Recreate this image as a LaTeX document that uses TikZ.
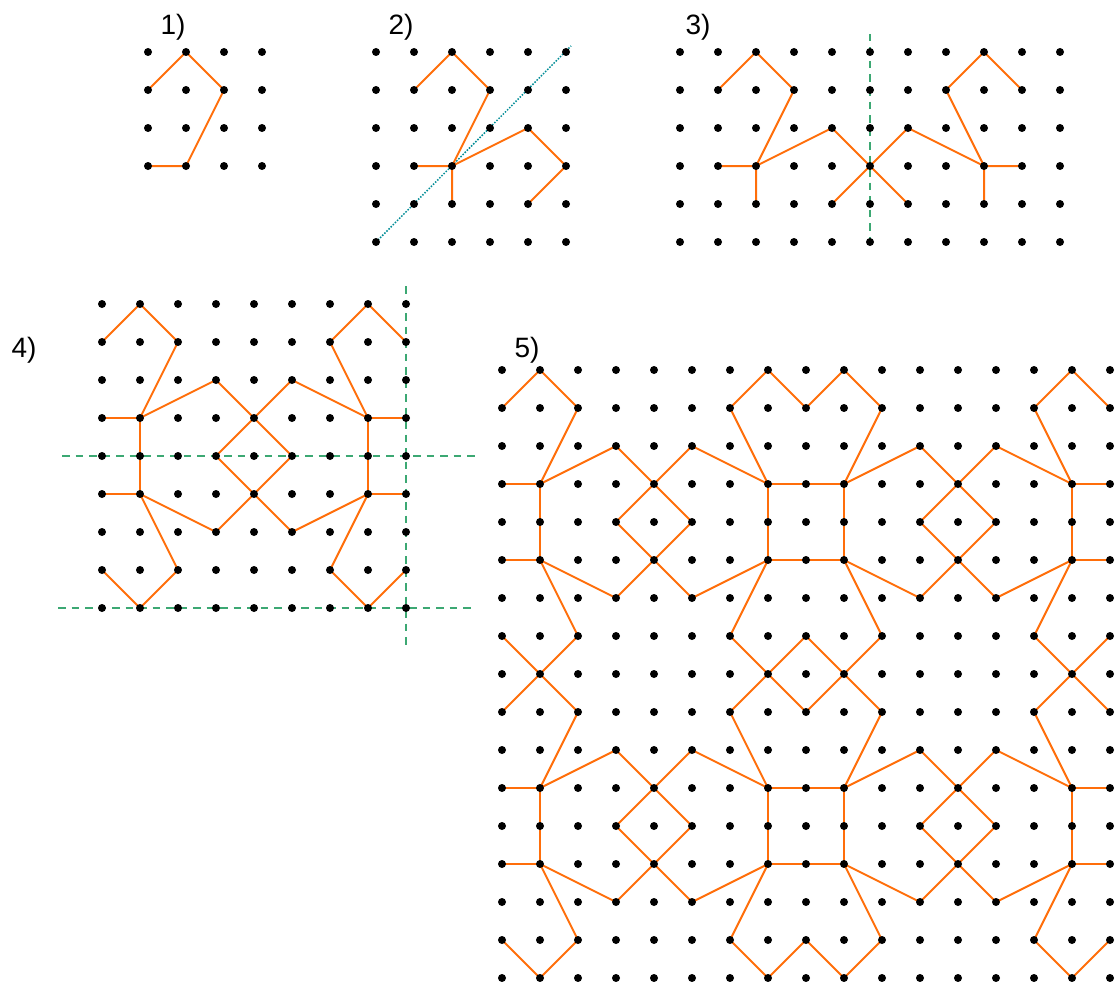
\documentclass[tikz,border=0pt]{standalone}
\usepackage{fontspec}
\setmainfont{Liberation Sans}
\definecolor{shapeorange}{RGB}{255,110,10}
\definecolor{axisgreen}{RGB}{60,168,115}
\definecolor{axisteal}{RGB}{0,140,150}
\tikzset{
  shapeline/.style={draw=shapeorange, line width=2pt, line join=round, line cap=round},
  greenaxis/.style={draw=axisgreen, line width=1.6pt, dash pattern=on 7.5pt off 6pt},
  tealaxis/.style={draw=axisteal, line width=1.5pt, dash pattern=on 1.5pt off 1.5pt},
  panellabel/.style={inner sep=0pt, font=\fontsize{28}{32}\selectfont},
}
% name, x0, y0, last column, last row
\newcommand\makegrid[5]{%
  \foreach \i in {0,...,#4}{\foreach \j in {0,...,#5}{%
    \coordinate (#1-\i-\j) at ({#2+38*\i},{#3+38*\j});}}}
\newcommand\showgrid[3]{%
  \foreach \i in {0,...,#2}{\foreach \j in {0,...,#3}{%
    \fill (#1-\i-\j) circle (4pt);}}}
\begin{document}
\begin{tikzpicture}[x=1pt,y=-1pt]
\useasboundingbox (0,0) rectangle (1119,982);
% grids
\makegrid{A}{148}{52}{3}{3}
\makegrid{B}{376}{52}{5}{5}
\makegrid{C}{680}{52}{10}{5}
\makegrid{D}{102}{304}{8}{8}
\makegrid{E}{502}{370}{16}{16}
% labels
\node[panellabel] (l1) at (173,27) {1)};
\node[panellabel] (l2) at (401,27) {2)};
\node[panellabel] (l3) at (698,27) {3)};
\node[panellabel] (l4) at (24,350) {4)};
\node[panellabel] (l5) at (527,350) {5)};
% axes
\coordinate (t2a) at (378,240);
\coordinate (t2b) at (571,46);
\draw[tealaxis] (t2a) -- (t2b);
\coordinate (g3a) at (870,34);
\coordinate (g3b) at (870,245);
\draw[greenaxis] (g3a) -- (g3b);
\coordinate (g4a) at (62,456);
\coordinate (g4b) at (476,456);
\draw[greenaxis] (g4a) -- (g4b);
\coordinate (g4c) at (58,608);
\coordinate (g4d) at (472,608);
\draw[greenaxis] (g4c) -- (g4d);
\coordinate (g4e) at (406,286);
\coordinate (g4f) at (406,646);
\draw[greenaxis] (g4e) -- (g4f);
% panel 1
\draw[shapeline] (A-0-1) -- (A-1-0) -- (A-2-1) -- (A-1-3) -- (A-0-3);
% panel 2
\draw[shapeline] (B-1-1) -- (B-2-0) -- (B-3-1) -- (B-2-3) -- (B-1-3);
\draw[shapeline] (B-2-4) -- (B-2-3) -- (B-4-2) -- (B-5-3) -- (B-4-4);
% panel 3
\draw[shapeline] (C-1-1) -- (C-2-0) -- (C-3-1) -- (C-2-3) -- (C-1-3);
\draw[shapeline] (C-2-4) -- (C-2-3) -- (C-4-2) -- (C-5-3) -- (C-4-4);
\draw[shapeline] (C-9-1) -- (C-8-0) -- (C-7-1) -- (C-8-3) -- (C-9-3);
\draw[shapeline] (C-8-4) -- (C-8-3) -- (C-6-2) -- (C-5-3) -- (C-6-4);
% panels 4 and 5: quarter motif mirrored
\foreach \a/\b/\c/\d in {0/1/1/0, 1/0/2/1, 2/1/1/3, 1/3/0/3, 1/3/1/4, 1/3/3/2, 3/2/4/3, 4/3/3/4}{
  \foreach \fx/\fy in {0/0,1/0,0/1,1/1}{
    \pgfmathtruncatemacro\xa{\a+\fx*(8-2*\a)}
    \pgfmathtruncatemacro\ya{\b+\fy*(8-2*\b)}
    \pgfmathtruncatemacro\xb{\c+\fx*(8-2*\c)}
    \pgfmathtruncatemacro\yb{\d+\fy*(8-2*\d)}
    \draw[shapeline] (D-\xa-\ya) -- (D-\xb-\yb);
    \foreach \gx/\gy in {0/0,1/0,0/1,1/1}{
      \pgfmathtruncatemacro\ua{\xa+\gx*(16-2*\xa)}
      \pgfmathtruncatemacro\va{\ya+\gy*(16-2*\ya)}
      \pgfmathtruncatemacro\ub{\xb+\gx*(16-2*\xb)}
      \pgfmathtruncatemacro\vb{\yb+\gy*(16-2*\yb)}
      \draw[shapeline] (E-\ua-\va) -- (E-\ub-\vb);
    }
  }
}
% dots on top
\showgrid{A}{3}{3}
\showgrid{B}{5}{5}
\showgrid{C}{10}{5}
\showgrid{D}{8}{8}
\showgrid{E}{16}{16}
\end{tikzpicture}
\end{document}
